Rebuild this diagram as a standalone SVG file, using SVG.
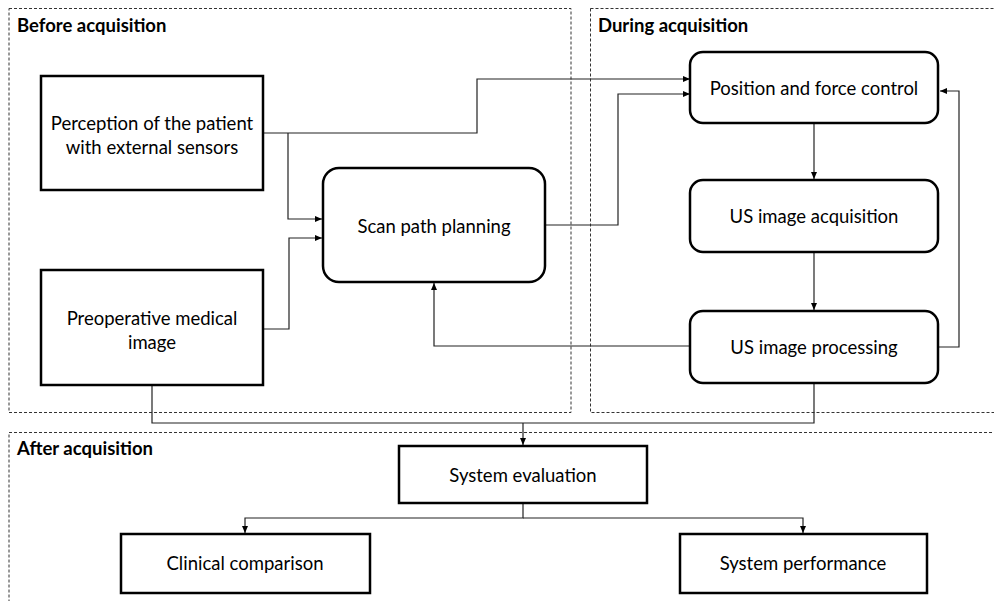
<svg xmlns="http://www.w3.org/2000/svg" width="994" height="601" viewBox="0 0 994 601">
  <defs>
    <marker id="arrow" markerUnits="userSpaceOnUse" markerWidth="7" markerHeight="6" refX="7" refY="3" orient="auto">
      <path d="M0,0 L7,3 L0,6 z" fill="#000"/>
    </marker>
    <style>
      .phase { fill: none; stroke: #333; stroke-width: 1; stroke-dasharray: 3 2; }
      .phase-title { font-family: Lato, "Liberation Sans", sans-serif; font-weight: bold; font-size: 18.5px; fill: #000; }
      .box { fill: #fff; stroke: #000; stroke-width: 2.5; }
      .label { font-family: Lato, "Liberation Sans", sans-serif; font-size: 18.5px; fill: #000; text-anchor: middle; dominant-baseline: central; }
      .link { fill: none; stroke: #222; stroke-width: 1.2; }
      .arrowed { marker-end: url(#arrow); }
    </style>
  </defs>

  <rect width="994" height="601" fill="#fff"/>

  <!-- phase frames -->
  <g id="phases">
    <rect class="phase" x="9" y="8.5" width="562" height="404"/>
    <text class="phase-title" x="17" y="32">Before acquisition</text>
    <rect class="phase" x="590.5" y="8.5" width="420" height="404"/>
    <text class="phase-title" x="598" y="32">During acquisition</text>
    <rect class="phase" x="9" y="432.5" width="1000" height="190"/>
    <text class="phase-title" x="17" y="455">After acquisition</text>
  </g>

  <!-- connectors -->
  <g id="connectors">
    <path class="link arrowed" d="M263,133 H477 V79 H690"/>
    <path class="link arrowed" d="M288,133 V219 H322"/>
    <path class="link arrowed" d="M263,329 H289 V238 H322"/>
    <path class="link arrowed" d="M545,225 H618 V94 H690"/>
    <path class="link arrowed" d="M814,124 V179"/>
    <path class="link arrowed" d="M814,253 V310"/>
    <path class="link arrowed" d="M939,347 H959 V91 H940"/>
    <path class="link arrowed" d="M690,346 H434 V283"/>
    <path class="link" d="M152,385 V423 H814 V383"/>
    <path class="link arrowed" d="M523,423 V445"/>
    <path class="link arrowed" d="M523,503 V518 H245 V533"/>
    <path class="link arrowed" d="M523,518 H803 V533"/>
  </g>

  <!-- before acquisition -->
  <g id="perception">
    <rect class="box" x="41" y="76" width="222" height="114"/>
    <text class="label" x="152" y="123">Perception of the patient</text>
    <text class="label" x="152" y="147">with external sensors</text>
  </g>
  <g id="preoperative">
    <rect class="box" x="41" y="270" width="222" height="115"/>
    <text class="label" x="152" y="318">Preoperative medical</text>
    <text class="label" x="152" y="342">image</text>
  </g>
  <g id="scan-path">
    <rect class="box" x="323" y="168" width="222" height="114" rx="16"/>
    <text class="label" x="434" y="226">Scan path planning</text>
  </g>

  <!-- during acquisition -->
  <g id="position-force">
    <rect class="box" x="690" y="52" width="248" height="71" rx="13"/>
    <text class="label" x="814" y="88">Position and force control</text>
  </g>
  <g id="us-acquisition">
    <rect class="box" x="690" y="180" width="248" height="72" rx="13"/>
    <text class="label" x="814" y="216">US image acquisition</text>
  </g>
  <g id="us-processing">
    <rect class="box" x="690" y="311" width="248" height="72" rx="13"/>
    <text class="label" x="814" y="347">US image processing</text>
  </g>

  <!-- after acquisition -->
  <g id="system-evaluation">
    <rect class="box" x="399" y="446" width="248" height="57"/>
    <text class="label" x="523" y="475">System evaluation</text>
  </g>
  <g id="clinical-comparison">
    <rect class="box" x="121" y="534" width="249" height="59"/>
    <text class="label" x="245" y="563">Clinical comparison</text>
  </g>
  <g id="system-performance">
    <rect class="box" x="680" y="534" width="247" height="59"/>
    <text class="label" x="803" y="563">System performance</text>
  </g>
</svg>
